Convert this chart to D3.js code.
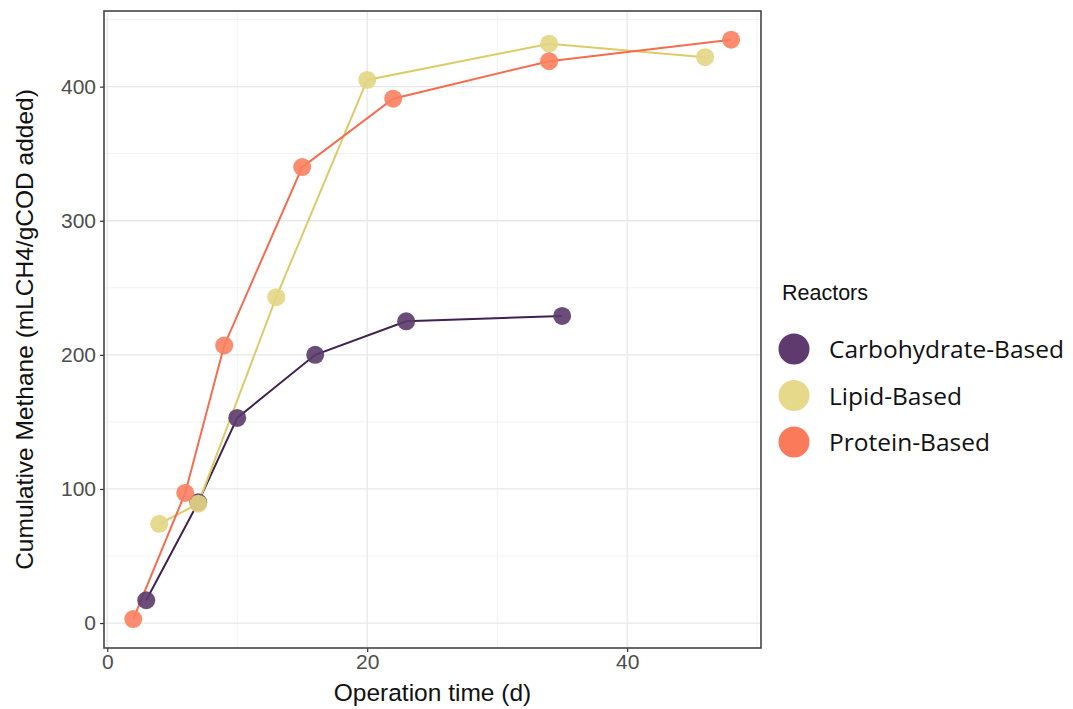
<!DOCTYPE html>
<html>
<head>
<meta charset="utf-8">
<script src="https://cdn.jsdelivr.net/npm/d3@7"></script>
<style>
  body { margin: 0; background: #fff; }
  svg { display: block; }
</style>
</head>
<body>
<script>
// series data
var carbDays = [3, 7, 10, 16, 23, 35];
var carbCH4 = [17, 90, 153, 200, 225, 229];
var lipidDays = [4, 7, 13, 20, 34, 46];
var lipidCH4 = [74, 89, 243, 405, 432, 422];
var proteinDays = [2, 6, 9, 15, 22, 34, 48];
var proteinCH4 = [3, 97, 207, 340, 391, 419, 435];

var seriesNames = ["Carbohydrate-Based", "Lipid-Based", "Protein-Based"];
var xTicks = [0, 20, 40];
var yTicks = [0, 100, 200, 300, 400];

var pointColors = ["#5b3a6b", "#e3d584", "#fb7f5f"];
var lineColors = ["#3f2050", "#dccb68", "#f56c4e"];
var legendColors = ["#5e3a6e", "#e6d98a", "#fa7a5a"];

var series = [
  { name: seriesNames[0], x: carbDays, y: carbCH4 },
  { name: seriesNames[1], x: lipidDays, y: lipidCH4 },
  { name: seriesNames[2], x: proteinDays, y: proteinCH4 }
];

var width = 1073, height = 709;
var panel = { left: 104, right: 761, top: 11, bottom: 648 };

var x = d3.scaleLinear().domain([-0.25, 50.3]).range([panel.left, panel.right]);
var y = d3.scaleLinear().domain([-18.6, 456.4]).range([panel.bottom, panel.top]);

var svg = d3.select("body").append("svg")
  .attr("width", width)
  .attr("height", height);

// minor grid
var xMinor = [10, 30, 50];
var yMinor = [50, 150, 250, 350, 450];
svg.append("g").selectAll("line").data(xMinor.filter(function(d) { return x(d) < panel.right; }))
  .enter().append("line")
  .attr("x1", function(d) { return x(d); }).attr("x2", function(d) { return x(d); })
  .attr("y1", panel.top).attr("y2", panel.bottom)
  .attr("stroke", "#f2f2f2").attr("stroke-width", 1);
svg.append("g").selectAll("line").data(yMinor.filter(function(d) { return y(d) > panel.top; }))
  .enter().append("line")
  .attr("x1", panel.left).attr("x2", panel.right)
  .attr("y1", function(d) { return y(d); }).attr("y2", function(d) { return y(d); })
  .attr("stroke", "#f2f2f2").attr("stroke-width", 1);

// major grid
svg.append("g").selectAll("line").data(xTicks)
  .enter().append("line")
  .attr("x1", function(d) { return x(d); }).attr("x2", function(d) { return x(d); })
  .attr("y1", panel.top).attr("y2", panel.bottom)
  .attr("stroke", "#e8e8e8").attr("stroke-width", 1.3);
svg.append("g").selectAll("line").data(yTicks)
  .enter().append("line")
  .attr("x1", panel.left).attr("x2", panel.right)
  .attr("y1", function(d) { return y(d); }).attr("y2", function(d) { return y(d); })
  .attr("stroke", "#e8e8e8").attr("stroke-width", 1.3);

// axes
var xAxis = svg.append("g")
  .attr("transform", "translate(0," + panel.bottom + ")")
  .call(d3.axisBottom(x).tickValues(xTicks).tickSize(4).tickPadding(2));
var yAxis = svg.append("g")
  .attr("transform", "translate(" + panel.left + ",0)")
  .call(d3.axisLeft(y).tickValues(yTicks).tickSize(4).tickPadding(4));
[xAxis, yAxis].forEach(function(a) {
  a.select(".domain").remove();
  a.selectAll(".tick line").attr("stroke", "#333").attr("stroke-width", 1.2);
  a.selectAll(".tick text")
    .attr("fill", "#4d4d4d")
    .style("font-family", "'Liberation Sans', Arial, sans-serif")
    .style("font-size", "21px");
});

// lines
var line = d3.line()
  .x(function(d) { return x(d[0]); })
  .y(function(d) { return y(d[1]); });

series.forEach(function(s, i) {
  var pts = d3.zip(s.x, s.y);
  svg.append("path")
    .datum(pts)
    .attr("fill", "none")
    .attr("stroke", lineColors[i])
    .attr("stroke-width", 2)
    .attr("d", line);
});

series.forEach(function(s, i) {
  var pts = d3.zip(s.x, s.y);
  svg.append("g").selectAll("circle").data(pts)
    .enter().append("circle")
    .attr("cx", function(d) { return x(d[0]); })
    .attr("cy", function(d) { return y(d[1]); })
    .attr("r", 9)
    .attr("fill", pointColors[i])
    .attr("fill-opacity", 0.9);
});

// panel border
svg.append("rect")
  .attr("x", panel.left).attr("y", panel.top)
  .attr("width", panel.right - panel.left)
  .attr("height", panel.bottom - panel.top)
  .attr("fill", "none")
  .attr("stroke", "#444")
  .attr("stroke-width", 1.6);

// axis titles
svg.append("text")
  .attr("x", (panel.left + panel.right) / 2)
  .attr("y", 701)
  .attr("text-anchor", "middle")
  .style("font-family", "'Liberation Sans', Arial, sans-serif")
  .style("font-size", "24.5px")
  .attr("fill", "#111")
  .text("Operation time (d)");

svg.append("text")
  .attr("transform", "translate(33," + ((panel.top + panel.bottom) / 2) + ") rotate(-90)")
  .attr("text-anchor", "middle")
  .style("font-family", "'Liberation Sans', Arial, sans-serif")
  .style("font-size", "24.5px")
  .attr("fill", "#111")
  .text("Cumulative Methane (mLCH4/gCOD added)");

// legend
var legend = svg.append("g");
legend.append("text")
  .attr("x", 782).attr("y", 300)
  .style("font-family", "'Liberation Sans', Arial, sans-serif")
  .style("font-size", "21.5px")
  .attr("fill", "#111")
  .text("Reactors");

var legendY = d3.scalePoint().domain(seriesNames).range([349, 442]);
seriesNames.forEach(function(n, i) {
  legend.append("circle")
    .attr("cx", 794).attr("cy", legendY(n))
    .attr("r", 15.5)
    .attr("fill", legendColors[i]);
  legend.append("text")
    .attr("x", 829).attr("y", legendY(n) + 9)
    .style("font-family", "'Open Sans', 'Noto Sans', sans-serif")
    .style("font-size", "24.5px")
    .attr("fill", "#111")
    .text(n);
});
</script>
</body>
</html>
